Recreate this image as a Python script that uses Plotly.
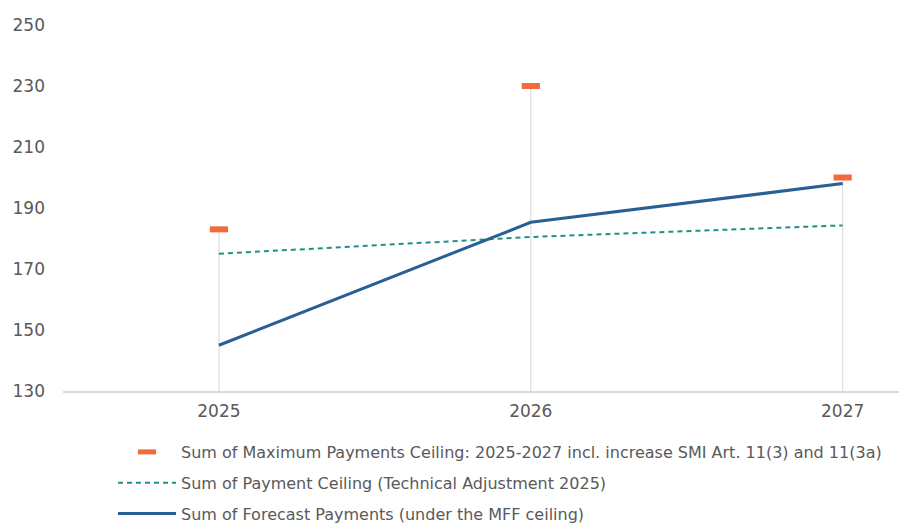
import plotly.graph_objects as go

years = ["2025", "2026", "2027"]
max_ceiling = [183, 230, 200]
payment_ceiling = [175, 180.5, 184.3]
forecast = [145, 185.3, 198]
y_ticks = [130, 150, 170, 190, 210, 230, 250]

name_max = "Sum of Maximum Payments Ceiling: 2025-2027 incl. increase SMI Art. 11(3) and 11(3a)"
name_pc = "Sum of Payment Ceiling (Technical Adjustment 2025)"
name_fc = "Sum of Forecast Payments (under the MFF ceiling)"

FONT = "DejaVu Sans, sans-serif"
TXT = "#595959"
base = y_ticks[0]

fig = go.Figure()

# drop lines from max ceiling to axis
fig.add_trace(go.Scatter(
    x=years, y=max_ceiling, mode="markers",
    marker=dict(opacity=0),
    error_y=dict(type="data", symmetric=False,
                 array=[0] * len(max_ceiling),
                 arrayminus=[v - base for v in max_ceiling],
                 color="#e0e0e0", thickness=1.3, width=0),
    showlegend=False, hoverinfo="skip"))

fig.add_trace(go.Scatter(
    x=years, y=payment_ceiling, mode="lines", name=name_pc,
    line=dict(color="#1e9186", width=2, dash="5px,4px"),
    legendrank=2, legendgroup="b"))

fig.add_trace(go.Scatter(
    x=years, y=forecast, mode="lines", name=name_fc,
    line=dict(color="#2a5f95", width=3),
    legendrank=3, legendgroup="c"))

fig.add_trace(go.Scatter(
    x=years, y=max_ceiling, mode="markers", name=name_max,
    marker=dict(symbol="line-ew", size=13, color="#f26a3c",
                line=dict(color="#f26a3c", width=6)),
    legendrank=1, legendgroup="a"))

W, H = 899, 517
fig.update_layout(
    width=W, height=H,
    margin=dict(l=55, r=2, t=17, b=134, autoexpand=False),
    paper_bgcolor="white", plot_bgcolor="white",
    font=dict(family=FONT, color=TXT, size=15),
    showlegend=True,
    legend=dict(xref="container", yref="container", x=(105 / W), y=1 - (427 / H),
                xanchor="left", yanchor="top",
                font=dict(family=FONT, size=16, color=TXT),
                itemwidth=58, tracegroupgap=7, traceorder="grouped",
                bgcolor="rgba(0,0,0,0)"),
)

fig.update_xaxes(type="category", range=[-0.5, 2.2],
                 showgrid=False, showline=True, linecolor="#d9d9d9", linewidth=1.5,
                 ticks="", tickfont=dict(size=17, color=TXT), ticklabelstandoff=4,
                 tickangle=0, zeroline=False)
fig.update_yaxes(range=[130, 250], tickvals=y_ticks, showgrid=False, showline=False,
                 zeroline=False, ticks="", tickfont=dict(size=17, color=TXT),
                 ticklabelstandoff=17)

fig.write_html("out.html")
